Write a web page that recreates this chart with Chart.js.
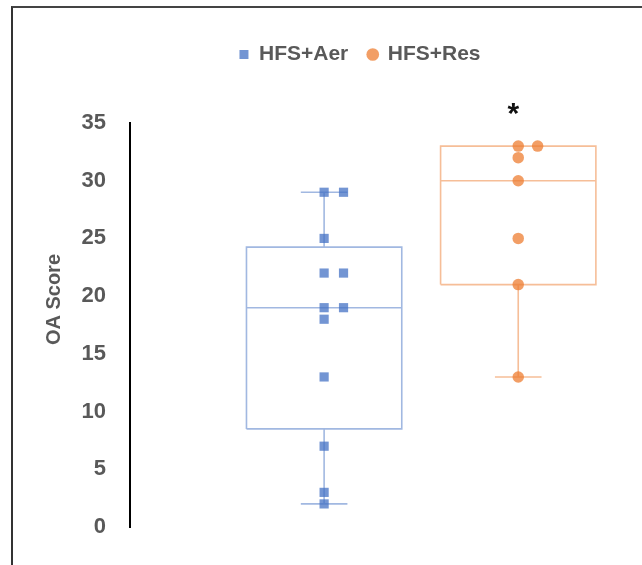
<!DOCTYPE html>
<html>
<head>
<meta charset="utf-8">
<script src="https://cdn.jsdelivr.net/npm/chart.js@4"></script>
<style>
  html,body{margin:0;padding:0;background:#fff;}
  #wrap{position:relative;width:642px;height:565px;}
  #frame{position:absolute;left:11px;top:6px;right:0;bottom:0;border-left:2px solid #333;border-top:2px solid #444;pointer-events:none;}
  canvas{display:block;}
</style>
</head>
<body>
<div id="wrap">
  <canvas id="c" width="642" height="565"></canvas>
  <div id="frame"></div>
</div>
<script>
// ---- data ----
const groups = ['HFS+Aer', 'HFS+Res'];
const aerScores = [29, 29, 25, 22, 22, 19, 19, 18, 13, 7, 3, 2];
const resScores = [33, 33, 32, 30, 25, 21, 13];
const yTicks = [0, 5, 10, 15, 20, 25, 30, 35];
const yAxisTitle = 'OA Score';
const significance = '*';

// ---- styles ----
const BLUE = '#4472C4', ORANGE = '#ED7D31';
const boxHalf = 0.4, capHalf = 0.12, dupStep = 0.1;

function rgba(hex, a){
  const n = parseInt(hex.slice(1), 16);
  return `rgba(${n>>16&255},${n>>8&255},${n&255},${a})`;
}
// Excel-style exclusive quartile
function quart(vals, p){
  const s = [...vals].sort((a,b)=>a-b), n = s.length;
  const pos = p*(n+1);
  const lo = Math.floor(pos), frac = pos - lo;
  if (lo < 1) return s[0];
  if (lo >= n) return s[n-1];
  return s[lo-1] + frac*(s[lo]-s[lo-1]);
}
function boxLines(vals, c){
  const q1 = quart(vals,0.25), med = quart(vals,0.5), q3 = quart(vals,0.75);
  const mn = Math.min(...vals), mx = Math.max(...vals);
  const gap = {x:c, y:null};
  return [
    {x:c-boxHalf,y:q1},{x:c+boxHalf,y:q1},{x:c+boxHalf,y:q3},{x:c-boxHalf,y:q3},{x:c-boxHalf,y:q1}, gap,
    {x:c-boxHalf,y:med},{x:c+boxHalf,y:med}, gap,
    {x:c,y:q3},{x:c,y:mx}, gap,
    {x:c-capHalf,y:mx},{x:c+capHalf,y:mx}, gap,
    {x:c,y:q1},{x:c,y:mn}, gap,
    {x:c-capHalf,y:mn},{x:c+capHalf,y:mn}
  ];
}
function pointsOf(vals, c){
  const seen = {};
  return vals.map(v => {
    const k = seen[v] || 0; seen[v] = k + 1;
    return {x: c + k*dupStep, y: v};
  });
}

const series = [aerScores, resScores];
const colors = [BLUE, ORANGE];
const styles = ['rect', 'circle'];
const datasets = [];
series.forEach((vals, i) => {
  const c = i + 1;
  datasets.push({
    type:'scatter', label: groups[i], data: pointsOf(vals, c),
    pointStyle: styles[i], pointRadius: styles[i]==='rect' ? 6.5 : 5.75,
    backgroundColor: rgba(colors[i], 0.75), borderColor: rgba(colors[i], 0.75),
    borderWidth: 0, order: 0
  });
  datasets.push({
    type:'line', label: '', data: boxLines(vals, c), showLine: true, spanGaps: false,
    pointRadius: 0, borderColor: rgba(colors[i], 0.5), borderWidth: 1.6,
    fill: false, order: 1
  });
});

const legendTweak = {
  id: 'legendTweak',
  beforeInit(chart){
    const lg = chart.legend;
    const origFit = lg.fit;
    lg.fit = function(){ origFit.call(this); this.height += 40; };
    const origDraw = lg.draw;
    lg.draw = function(){
      const ctx = this.ctx;
      ctx.save(); ctx.translate(28, -8); origDraw.call(this); ctx.restore();
    };
  }
};
const annotations = {
  id: 'annotations',
  afterDatasetsDraw(chart){
    const {ctx, scales:{x, y}} = chart;
    // significance mark
    ctx.save();
    ctx.font = 'bold 30px "Liberation Sans"';
    ctx.fillStyle = '#111';
    ctx.textAlign = 'center';
    ctx.textBaseline = 'alphabetic';
    const m = ctx.measureText(significance);
    const cy = y.top - 14;
    const base = cy + (m.actualBoundingBoxAscent - m.actualBoundingBoxDescent)/2;
    ctx.fillText(significance, x.getPixelForValue(2) - 5, base);
    ctx.restore();
    // y-axis title
    ctx.save();
    ctx.font = 'bold 20px "Liberation Sans"';
    ctx.fillStyle = '#595959';
    ctx.textAlign = 'center';
    ctx.textBaseline = 'middle';
    ctx.translate(y.left + 15, y.top + (y.bottom - y.top) * 0.437);
    ctx.rotate(-Math.PI/2);
    ctx.fillText(yAxisTitle, 0, 0);
    ctx.restore();
  }
};

new Chart(document.getElementById('c'), {
  data: { datasets },
  options: {
    responsive: false, animation: false,
    layout: { padding: { left: 39, right: 17, top: 32, bottom: 38 } },
    plugins: {
      legend: {
        position: 'top',
        labels: {
          usePointStyle: true, boxWidth: 9, boxHeight: 9, padding: 20,
          color: '#595959', font: { family: '"Liberation Sans"', size: 21, weight: 'bold' },
          filter: item => item.text !== ''
        }
      },
      tooltip: { enabled: false }
    },
    scales: {
      x: { type: 'linear', min: 0, max: 2.55, display: false },
      y: {
        min: 0, max: 35,
        afterBuildTicks: axis => { axis.ticks = yTicks.map(v => ({value: v})); },
        afterFit: axis => { axis.width = 91; },
        grid: { display: false, drawTicks: false },
        border: { display: true, color: '#000', width: 2 },
        ticks: { padding: 24, color: '#595959', font: { family: '"Liberation Sans"', size: 22, weight: 'bold' } },
        title: { display: false, text: yAxisTitle }
      }
    }
  },
  plugins: [legendTweak, annotations]
});
</script>
</body>
</html>
